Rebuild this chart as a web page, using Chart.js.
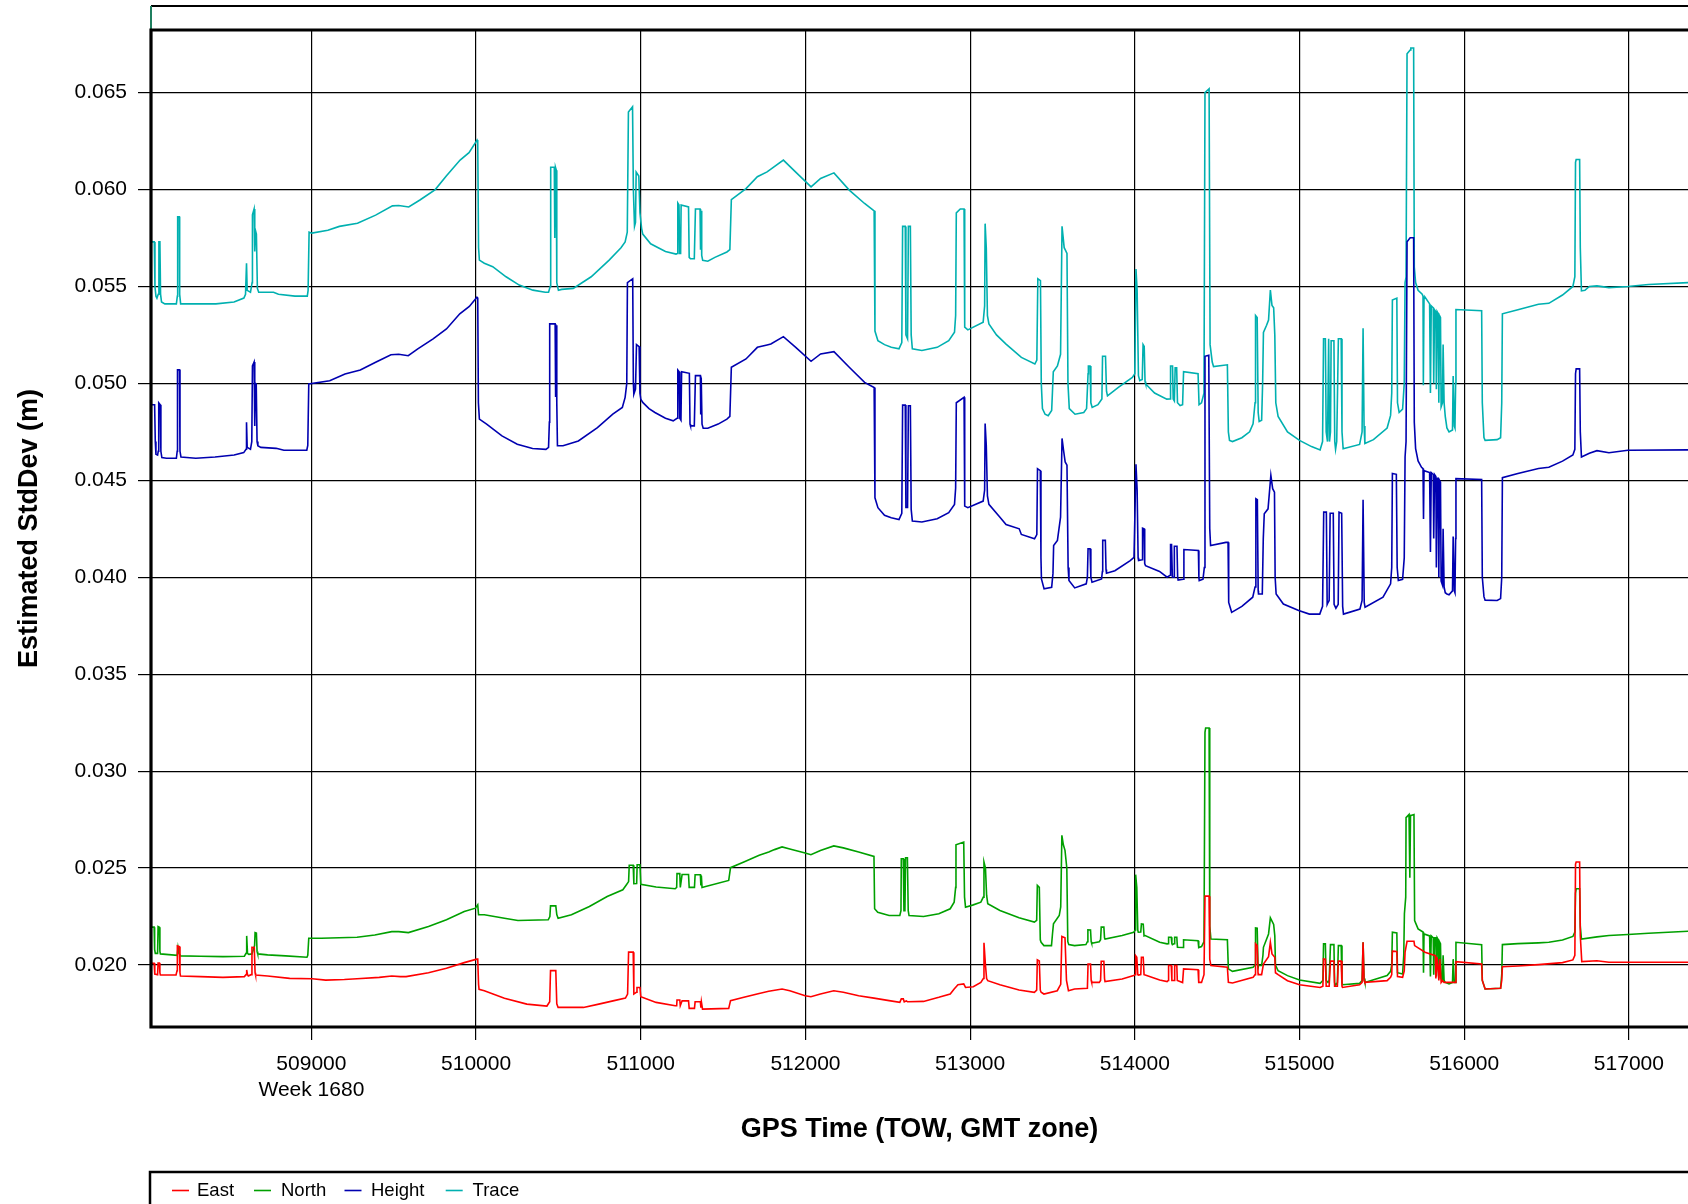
<!DOCTYPE html>
<html>
<head>
<meta charset="utf-8">
<script src="https://cdn.jsdelivr.net/npm/chart.js@4/dist/chart.umd.min.js"></script>
<style>
html,body{margin:0;padding:0;background:#fff;overflow:hidden;}
#wrap{width:1688px;height:1204px;}
</style>
</head>
<body>
<div id="wrap"><canvas id="c" width="1688" height="1204"></canvas></div>
<script>
// ---- Data (GPS time of week [s], estimated standard deviation [m]) ----
const seriesNames = ['East', 'North', 'Height', 'Trace'];
const seriesColors = ['#ff0000', '#00a000', '#0000b0', '#00b0b0'];
const xTickValues = [509000, 510000, 511000, 512000, 513000, 514000, 515000, 516000, 517000];
const yTickValues = [0.020, 0.025, 0.030, 0.035, 0.040, 0.045, 0.050, 0.055, 0.060, 0.065];
const weekLabel = 'Week 1680';

const traceData = [[508025,0.0579],[508028,0.0573],[508046,0.0573],[508050,0.0550],[508056,0.0545],[508062,0.0544],[508070,0.0546],[508074,0.0573],[508080,0.0573],[508084,0.0546],[508090,0.0542],[508110,0.0541],[508180,0.0541],[508186,0.0545],[508188,0.0586],[508198,0.0586],[508200,0.0546],[508206,0.0541],[508300,0.0541],[508420,0.0541],[508530,0.0542],[508590,0.0544],[508600,0.0546],[508606,0.0562],[508610,0.0548],[508630,0.0547],[508640,0.0552],[508642,0.0587],[508652,0.0590],[508656,0.0568],[508660,0.0579],[508666,0.0577],[508672,0.0549],[508680,0.0547],[508770,0.0547],[508800,0.0546],[508900,0.0545],[508975,0.0545],[508980,0.0548],[508986,0.0578],[509003,0.05775],[509100,0.0579],[509170,0.0581],[509280,0.05826],[509390,0.05868],[509492,0.05916],[509530,0.05918],[509591,0.0591],[509659,0.05946],[509752,0.0600],[509819,0.0607],[509903,0.06152],[509957,0.0619],[510006,0.06255],[510010,0.06245],[510015,0.0570],[510020,0.05636],[510050,0.0562],[510101,0.05602],[510182,0.0555],[510262,0.05507],[510345,0.05481],[510420,0.0547],[510440,0.0547],[510450,0.0550],[510453,0.06115],[510475,0.06115],[510478,0.0575],[510482,0.06115],[510487,0.0610],[510490,0.0552],[510500,0.0548],[510520,0.05485],[510590,0.0549],[510699,0.0555],[510808,0.05636],[510880,0.0570],[510905,0.0573],[510918,0.0578],[510925,0.0640],[510950,0.06427],[510955,0.0600],[510962,0.0581],[510968,0.0583],[510972,0.0609],[510988,0.0607],[510995,0.0588],[511005,0.0580],[511012,0.0577],[511060,0.0572],[511106,0.0570],[511150,0.0568],[511214,0.05667],[511222,0.0567],[511225,0.0593],[511232,0.0592],[511236,0.0567],[511242,0.0567],[511245,0.0592],[511290,0.0591],[511294,0.0565],[511302,0.05643],[511325,0.05643],[511332,0.0590],[511360,0.0590],[511363,0.0569],[511367,0.0589],[511370,0.0566],[511376,0.05635],[511407,0.0563],[511450,0.0565],[511523,0.05678],[511541,0.0569],[511550,0.05948],[511639,0.06005],[511708,0.06066],[511767,0.06091],[511790,0.06105],[511866,0.06152],[511941,0.0609],[512034,0.06014],[512092,0.06057],[512173,0.06086],[512266,0.05997],[512359,0.05928],[512417,0.0589],[512422,0.0527],[512440,0.0522],[512480,0.0520],[512521,0.05186],[512568,0.05178],[512585,0.0521],[512590,0.0581],[512606,0.0581],[512610,0.0525],[512620,0.0523],[512625,0.0581],[512637,0.0581],[512642,0.0525],[512649,0.05178],[512707,0.0517],[512800,0.05186],[512870,0.0522],[512905,0.05264],[512912,0.0535],[512916,0.0588],[512940,0.0590],[512963,0.0590],[512967,0.0529],[512986,0.05276],[513079,0.05316],[513088,0.0540],[513091,0.05824],[513098,0.0570],[513105,0.0535],[513114,0.05307],[513160,0.0525],[513218,0.05203],[513311,0.05134],[513393,0.0510],[513405,0.0512],[513411,0.0554],[513427,0.0553],[513432,0.0500],[513439,0.0487],[513455,0.04841],[513474,0.04833],[513495,0.0486],[513505,0.0506],[513530,0.0509],[513549,0.0515],[513558,0.0581],[513571,0.0570],[513577,0.0569],[513588,0.0567],[513594,0.0500],[513602,0.0487],[513637,0.04841],[513690,0.0485],[513707,0.0487],[513716,0.0505],[513718,0.0509],[513728,0.0509],[513733,0.0490],[513741,0.04876],[513776,0.0489],[513800,0.0492],[513804,0.0514],[513822,0.0514],[513828,0.0496],[513834,0.04936],[513900,0.0498],[513985,0.05031],[514000,0.0505],[514007,0.0559],[514014,0.0548],[514022,0.0504],[514030,0.05014],[514045,0.0502],[514050,0.0520],[514057,0.0519],[514062,0.0501],[514066,0.04997],[514120,0.0495],[514194,0.04919],[514214,0.0492],[514217,0.0509],[514229,0.0509],[514233,0.0492],[514240,0.0491],[514245,0.0508],[514254,0.0508],[514259,0.0490],[514275,0.04886],[514290,0.0489],[514296,0.0506],[514384,0.0505],[514390,0.0489],[514405,0.0490],[514420,0.0495],[514426,0.0650],[514451,0.0652],[514457,0.0520],[514470,0.0511],[514478,0.05087],[514562,0.05096],[514568,0.0475],[514575,0.04706],[514593,0.0470],[514650,0.0472],[514697,0.0475],[514718,0.04792],[514730,0.0490],[514733,0.0535],[514743,0.0534],[514749,0.0485],[514755,0.04803],[514770,0.0481],[514776,0.0500],[514781,0.05263],[514800,0.0530],[514812,0.05327],[514823,0.05481],[514833,0.05402],[514843,0.0539],[514850,0.0525],[514856,0.0490],[514870,0.0483],[514927,0.0475],[515000,0.04706],[515073,0.04674],[515125,0.04657],[515140,0.0470],[515146,0.0523],[515157,0.0523],[515162,0.0475],[515170,0.0470],[515177,0.0523],[515182,0.0470],[515188,0.0475],[515192,0.0522],[515209,0.0522],[515214,0.0470],[515219,0.0466],[515226,0.0470],[515236,0.0523],[515253,0.0523],[515258,0.0475],[515265,0.04663],[515365,0.04685],[515380,0.0475],[515386,0.05284],[515392,0.0478],[515397,0.0469],[515449,0.0471],[515532,0.0477],[515553,0.04835],[515560,0.0495],[515564,0.0543],[515591,0.0544],[515595,0.0490],[515605,0.0485],[515626,0.04867],[515636,0.0500],[515641,0.0552],[515647,0.0555],[515653,0.0670],[515672,0.0672],[515676,0.0673],[515693,0.0673],[515697,0.0560],[515705,0.0552],[515720,0.0548],[515745,0.0546],[515750,0.0545],[515752,0.0499],[515756,0.0544],[515762,0.05445],[515790,0.0541],[515795,0.0495],[515800,0.0540],[515812,0.0539],[515815,0.0500],[515820,0.0538],[515828,0.0537],[515831,0.0497],[515836,0.0537],[515842,0.0536],[515846,0.0490],[515850,0.0535],[515856,0.0534],[515860,0.0488],[515868,0.0490],[515872,0.0520],[515878,0.0490],[515885,0.0483],[515895,0.0477],[515908,0.0475],[515929,0.0476],[515933,0.05038],[515940,0.0478],[515944,0.0477],[515948,0.0500],[515950,0.05381],[516106,0.05375],[516110,0.0490],[516120,0.0472],[516127,0.04706],[516200,0.0471],[516221,0.0472],[516228,0.0490],[516232,0.05359],[516326,0.0538],[516451,0.05408],[516514,0.05413],[516597,0.05456],[516660,0.0550],[516672,0.0555],[516676,0.0614],[516680,0.06155],[516701,0.06155],[516705,0.0570],[516712,0.05477],[516733,0.0548],[516760,0.0550],[516806,0.05503],[516879,0.05494],[516994,0.05500],[517119,0.05510],[517365,0.0552]];

const heightData = [[508025,0.0495],[508028,0.0489],[508048,0.0489],[508052,0.0470],[508056,0.04634],[508066,0.0463],[508070,0.0465],[508073,0.0490],[508082,0.0489],[508086,0.0465],[508092,0.04617],[508120,0.04614],[508180,0.04614],[508185,0.0465],[508187,0.0507],[508199,0.0507],[508202,0.0465],[508208,0.0462],[508298,0.04614],[508415,0.0462],[508531,0.04631],[508589,0.04643],[508603,0.0466],[508606,0.0480],[508610,0.0467],[508630,0.0466],[508638,0.0470],[508642,0.0509],[508652,0.0511],[508656,0.0478],[508660,0.0500],[508665,0.04997],[508670,0.0470],[508675,0.04678],[508693,0.0467],[508786,0.04665],[508833,0.04655],[508972,0.04655],[508978,0.0468],[508984,0.04997],[509111,0.05014],[509204,0.05048],[509297,0.05069],[509390,0.05109],[509483,0.05148],[509530,0.05150],[509588,0.05143],[509646,0.05178],[509739,0.0523],[509820,0.05281],[509901,0.05359],[509959,0.05397],[510005,0.05445],[510010,0.05440],[510014,0.0490],[510020,0.04816],[510064,0.0479],[510157,0.04729],[510250,0.04686],[510343,0.04664],[510424,0.0466],[510440,0.0467],[510445,0.0480],[510447,0.05307],[510480,0.05307],[510483,0.0493],[510487,0.0530],[510490,0.0490],[510494,0.04678],[510528,0.04678],[510621,0.04703],[510737,0.04772],[510830,0.04841],[510888,0.04876],[510905,0.04928],[510915,0.0500],[510919,0.0552],[510951,0.0554],[510955,0.0500],[510958,0.04945],[510968,0.0497],[510974,0.0520],[510990,0.0519],[510995,0.0495],[511000,0.04919],[511012,0.04902],[511050,0.0487],[511086,0.0485],[511150,0.0482],[511197,0.04807],[511220,0.0482],[511225,0.05069],[511233,0.0506],[511237,0.0482],[511244,0.0481],[511248,0.0506],[511295,0.05052],[511299,0.0479],[511302,0.04781],[511325,0.04781],[511332,0.0504],[511362,0.0504],[511364,0.0484],[511367,0.0503],[511372,0.0479],[511379,0.04769],[511407,0.04769],[511470,0.0479],[511523,0.04816],[511541,0.0483],[511550,0.05083],[511639,0.05126],[511708,0.05186],[511767,0.05198],[511790,0.05203],[511866,0.05241],[511941,0.05186],[512034,0.05114],[512092,0.05152],[512173,0.05164],[512266,0.05083],[512359,0.05005],[512417,0.04979],[512422,0.0441],[512440,0.04359],[512480,0.0432],[512521,0.04307],[512568,0.04298],[512585,0.0433],[512590,0.04888],[512606,0.04888],[512610,0.0436],[512620,0.0436],[512625,0.04885],[512637,0.04885],[512642,0.0435],[512649,0.0429],[512707,0.04285],[512800,0.04302],[512870,0.04333],[512905,0.04376],[512912,0.0446],[512916,0.0490],[512963,0.04928],[512967,0.04367],[512986,0.04359],[513079,0.04393],[513088,0.0445],[513091,0.04793],[513098,0.0468],[513105,0.0442],[513114,0.04376],[513181,0.0431],[513218,0.04272],[513298,0.0425],[513311,0.04221],[513391,0.04198],[513405,0.0422],[513409,0.0456],[513426,0.0455],[513430,0.0410],[513433,0.03991],[513449,0.0394],[513495,0.03948],[513503,0.0402],[513507,0.04164],[513530,0.0419],[513549,0.0431],[513558,0.04716],[513568,0.0465],[513577,0.04595],[513588,0.04578],[513595,0.0405],[513600,0.03983],[513635,0.03945],[513705,0.03966],[513712,0.0400],[513716,0.04147],[513728,0.04147],[513733,0.0400],[513740,0.03974],[513798,0.03991],[513803,0.0403],[513805,0.0419],[513821,0.0419],[513825,0.0404],[513828,0.04021],[513879,0.04034],[513972,0.04086],[513995,0.04103],[514007,0.04583],[514014,0.0445],[514020,0.0410],[514023,0.04086],[514044,0.0409],[514047,0.04253],[514056,0.0425],[514060,0.0407],[514065,0.0406],[514150,0.0403],[514196,0.0400],[514214,0.0401],[514217,0.04169],[514223,0.04169],[514228,0.0400],[514238,0.0400],[514240,0.0416],[514256,0.0416],[514260,0.0400],[514263,0.03986],[514294,0.0399],[514298,0.04143],[514386,0.04138],[514389,0.0400],[514391,0.03983],[514414,0.0399],[514422,0.0405],[514426,0.0514],[514449,0.05145],[514455,0.0425],[514460,0.04164],[514553,0.0418],[514566,0.0418],[514570,0.0387],[514588,0.03819],[514650,0.0385],[514716,0.03897],[514730,0.0395],[514735,0.04405],[514744,0.0440],[514749,0.0393],[514751,0.03914],[514774,0.03914],[514780,0.0420],[514786,0.04328],[514809,0.04353],[514826,0.04526],[514837,0.04457],[514848,0.04439],[514852,0.0400],[514858,0.03914],[514902,0.03862],[514995,0.03828],[515060,0.0381],[515123,0.0381],[515140,0.0385],[515147,0.04336],[515163,0.04336],[515168,0.0386],[515174,0.03871],[515180,0.0388],[515186,0.0433],[515205,0.0433],[515210,0.0386],[515221,0.0384],[515235,0.0386],[515240,0.04336],[515256,0.0433],[515262,0.0385],[515267,0.0381],[515367,0.03836],[515380,0.0388],[515386,0.0440],[515393,0.0387],[515398,0.03845],[515507,0.03897],[515553,0.03966],[515560,0.0405],[515564,0.04535],[515588,0.04531],[515593,0.0405],[515600,0.03983],[515626,0.03989],[515636,0.0410],[515641,0.0462],[515647,0.0470],[515653,0.0573],[515672,0.05751],[515693,0.05751],[515697,0.0480],[515705,0.04664],[515720,0.0460],[515741,0.04567],[515750,0.0456],[515753,0.0430],[515756,0.0455],[515790,0.0454],[515795,0.0413],[515800,0.0454],[515812,0.0453],[515815,0.0420],[515820,0.0453],[515828,0.0452],[515831,0.0405],[515836,0.0451],[515842,0.0451],[515846,0.0400],[515850,0.0450],[515856,0.0449],[515860,0.0398],[515868,0.0396],[515872,0.0425],[515878,0.0395],[515885,0.0392],[515895,0.03914],[515908,0.0391],[515929,0.0393],[515933,0.0421],[515940,0.0393],[515944,0.0392],[515948,0.0420],[515950,0.04509],[516106,0.04504],[516110,0.0400],[516120,0.0390],[516127,0.03882],[516200,0.0388],[516221,0.0389],[516228,0.0400],[516232,0.04514],[516326,0.04535],[516451,0.04561],[516514,0.04567],[516597,0.04599],[516660,0.04631],[516672,0.0466],[516676,0.0505],[516680,0.05075],[516701,0.05075],[516705,0.0475],[516712,0.0462],[516760,0.0464],[516806,0.04653],[516879,0.04642],[516994,0.04655],[517365,0.04657]];

const northData = [[508025,0.0222],[508028,0.02195],[508045,0.02195],[508048,0.0208],[508052,0.0206],[508066,0.0206],[508069,0.02198],[508077,0.02195],[508080,0.0207],[508083,0.02057],[508185,0.0205],[508190,0.0209],[508196,0.0206],[508205,0.02047],[508327,0.02045],[508463,0.02043],[508593,0.02045],[508603,0.0206],[508607,0.0215],[508612,0.0206],[508620,0.02055],[508639,0.02057],[508655,0.0210],[508658,0.02167],[508666,0.02165],[508670,0.0207],[508674,0.02057],[508734,0.02052],[508843,0.02047],[508973,0.0204],[508978,0.0205],[508984,0.02138],[509060,0.02138],[509277,0.02143],[509385,0.02155],[509488,0.02172],[509530,0.02172],[509589,0.02167],[509711,0.02198],[509820,0.02233],[509928,0.02276],[509996,0.02293],[510010,0.0231],[510015,0.02259],[510050,0.02259],[510172,0.02241],[510254,0.02229],[510438,0.02233],[510448,0.0225],[510452,0.02305],[510484,0.02305],[510490,0.0226],[510498,0.02241],[510579,0.02259],[510688,0.02302],[510796,0.02353],[510891,0.02388],[510913,0.02414],[510926,0.0243],[510930,0.02514],[510954,0.02514],[510958,0.02419],[510975,0.0242],[510978,0.02517],[510995,0.02517],[511000,0.02416],[511093,0.02402],[511209,0.02393],[511218,0.0240],[511220,0.02471],[511237,0.02471],[511240,0.0240],[511244,0.0240],[511251,0.02467],[511290,0.02467],[511294,0.0240],[511326,0.0240],[511330,0.02465],[511362,0.02465],[511365,0.0241],[511368,0.0246],[511372,0.0240],[511394,0.02405],[511534,0.02436],[511545,0.02502],[511626,0.02531],[511719,0.02566],[511777,0.02583],[511812,0.02595],[511858,0.02609],[511905,0.02598],[511998,0.02578],[512033,0.02569],[512091,0.02591],[512172,0.02614],[512230,0.02604],[512323,0.02583],[512416,0.0256],[512420,0.0229],[512439,0.02272],[512508,0.02255],[512573,0.02255],[512580,0.0228],[512582,0.02548],[512594,0.02548],[512598,0.0228],[512604,0.0228],[512608,0.02553],[512619,0.02553],[512624,0.0228],[512629,0.02255],[512717,0.0225],[512810,0.02264],[512879,0.0229],[512903,0.02324],[512912,0.0240],[512914,0.0262],[512961,0.02634],[512966,0.0235],[512972,0.02298],[513019,0.0231],[513065,0.02324],[513080,0.0235],[513084,0.02531],[513093,0.0250],[513100,0.0236],[513107,0.02316],[513181,0.02281],[513297,0.02243],[513390,0.02221],[513404,0.0223],[513408,0.0241],[513420,0.0240],[513426,0.0213],[513431,0.02117],[513448,0.021],[513494,0.021],[513500,0.0216],[513506,0.02212],[513541,0.02255],[513550,0.0230],[513557,0.02669],[513566,0.0262],[513576,0.02591],[513587,0.0250],[513593,0.0212],[513599,0.02105],[513634,0.021],[513703,0.02105],[513712,0.0212],[513715,0.02181],[513731,0.0218],[513735,0.0212],[513738,0.02112],[513784,0.0212],[513792,0.0213],[513796,0.02195],[513812,0.02195],[513816,0.0214],[513819,0.02134],[513923,0.02152],[513993,0.02169],[514003,0.0218],[514005,0.02466],[514012,0.0240],[514018,0.0218],[514021,0.02169],[514036,0.0217],[514040,0.02212],[514051,0.0221],[514056,0.0215],[514063,0.02152],[514151,0.02117],[514196,0.02109],[514203,0.0211],[514205,0.02143],[514221,0.02143],[514225,0.0211],[514228,0.02105],[514240,0.0211],[514242,0.02143],[514255,0.02143],[514258,0.0210],[514259,0.02091],[514294,0.0209],[514296,0.0213],[514384,0.02125],[514388,0.0209],[514405,0.02095],[514420,0.0212],[514426,0.0320],[514430,0.03222],[514451,0.03222],[514455,0.0220],[514462,0.02134],[514562,0.0213],[514568,0.0198],[514593,0.01967],[514718,0.01988],[514730,0.0200],[514733,0.02191],[514743,0.0219],[514748,0.0200],[514749,0.01997],[514770,0.01997],[514778,0.0205],[514781,0.02091],[514812,0.0216],[514823,0.02243],[514843,0.02209],[514850,0.0215],[514854,0.0200],[514870,0.0197],[514927,0.01945],[515000,0.01922],[515125,0.01905],[515142,0.0192],[515146,0.02109],[515157,0.02109],[515162,0.0192],[515173,0.0191],[515180,0.0192],[515188,0.02105],[515209,0.02105],[515213,0.0191],[515219,0.01895],[515230,0.0191],[515236,0.021],[515253,0.021],[515258,0.0191],[515261,0.01898],[515365,0.01905],[515380,0.0192],[515386,0.02117],[515392,0.0193],[515397,0.0191],[515532,0.01945],[515553,0.01967],[515560,0.0200],[515564,0.02169],[515591,0.02165],[515595,0.0196],[515626,0.01953],[515633,0.0205],[515637,0.02264],[515645,0.0235],[515647,0.0276],[515665,0.02776],[515670,0.0245],[515674,0.0277],[515695,0.02776],[515699,0.02229],[515720,0.02186],[515750,0.0217],[515753,0.0196],[515756,0.0216],[515790,0.0215],[515795,0.0194],[515800,0.0215],[515812,0.0214],[515815,0.0195],[515820,0.0214],[515828,0.0214],[515831,0.0194],[515836,0.0214],[515842,0.0213],[515846,0.0193],[515850,0.0212],[515856,0.0211],[515860,0.0193],[515868,0.0192],[515872,0.0205],[515878,0.0192],[515885,0.0191],[515908,0.01902],[515929,0.0191],[515933,0.0203],[515940,0.0191],[515946,0.0191],[515950,0.02117],[516106,0.02105],[516110,0.0192],[516127,0.01876],[516221,0.0188],[516228,0.0195],[516232,0.02105],[516326,0.0211],[516451,0.02114],[516514,0.02117],[516597,0.02129],[516660,0.02147],[516672,0.0217],[516676,0.0237],[516680,0.02393],[516701,0.02393],[516705,0.0220],[516712,0.02134],[516806,0.02145],[516879,0.02152],[516994,0.02157],[517119,0.02164],[517365,0.02174]];

const eastData = [[508025,0.02034],[508029,0.02009],[508045,0.02009],[508048,0.0197],[508050,0.01953],[508066,0.0195],[508069,0.0201],[508077,0.0201],[508080,0.0196],[508083,0.01948],[508178,0.01948],[508184,0.0197],[508186,0.02098],[508197,0.02095],[508202,0.0196],[508205,0.01943],[508327,0.0194],[508463,0.01936],[508593,0.0194],[508603,0.0195],[508607,0.01974],[508612,0.0195],[508617,0.01943],[508634,0.0195],[508639,0.02091],[508653,0.0209],[508658,0.0196],[508661,0.01948],[508734,0.01943],[508868,0.01931],[509005,0.01929],[509087,0.01922],[509200,0.01925],[509277,0.01929],[509412,0.01936],[509488,0.01943],[509540,0.0194],[509575,0.0194],[509711,0.0196],[509820,0.01983],[509928,0.02012],[510004,0.0203],[510010,0.0203],[510015,0.0190],[510018,0.01874],[510050,0.01867],[510172,0.01828],[510308,0.01798],[510430,0.01788],[510447,0.0181],[510452,0.01971],[510484,0.01971],[510490,0.0180],[510498,0.01781],[510634,0.01781],[510652,0.01781],[510745,0.01798],[510838,0.01816],[510907,0.01829],[510920,0.0185],[510926,0.02066],[510954,0.02066],[510958,0.0185],[510975,0.0186],[510977,0.01884],[510995,0.01884],[511000,0.01836],[511093,0.01807],[511209,0.0179],[511218,0.0179],[511220,0.01819],[511237,0.01819],[511240,0.0179],[511244,0.0179],[511251,0.01815],[511290,0.01815],[511294,0.01776],[511326,0.01776],[511330,0.0181],[511362,0.0181],[511365,0.0178],[511368,0.0181],[511375,0.01772],[511534,0.01776],[511545,0.01816],[511626,0.01833],[511719,0.01853],[511777,0.01864],[511858,0.01876],[511905,0.01867],[511998,0.01841],[512033,0.01836],[512091,0.01850],[512172,0.01867],[512230,0.01859],[512323,0.01841],[512416,0.01829],[512508,0.01816],[512573,0.01807],[512582,0.01825],[512594,0.01825],[512600,0.0181],[512613,0.01815],[512620,0.0181],[512717,0.01812],[512810,0.01833],[512879,0.0185],[512903,0.01876],[512926,0.01898],[512961,0.01902],[512972,0.01884],[513019,0.01888],[513065,0.0191],[513080,0.0193],[513084,0.02114],[513093,0.0200],[513100,0.0193],[513107,0.01919],[513181,0.01898],[513297,0.01871],[513390,0.01859],[513404,0.0187],[513408,0.02026],[513420,0.0202],[513426,0.0187],[513431,0.01859],[513448,0.0185],[513529,0.01867],[513550,0.0190],[513557,0.02147],[513576,0.0214],[513585,0.0192],[513597,0.01867],[513634,0.01876],[513712,0.0188],[513716,0.02005],[513731,0.02005],[513735,0.0192],[513738,0.0191],[513784,0.0191],[513792,0.0192],[513796,0.02019],[513812,0.02019],[513816,0.0193],[513819,0.01914],[513923,0.01928],[513993,0.01945],[514003,0.0195],[514005,0.02048],[514012,0.0204],[514018,0.0195],[514021,0.01948],[514036,0.0195],[514040,0.0204],[514051,0.0204],[514056,0.0195],[514063,0.01948],[514151,0.01922],[514196,0.01914],[514203,0.0192],[514205,0.01997],[514221,0.01997],[514225,0.0192],[514240,0.0192],[514242,0.01997],[514255,0.01997],[514258,0.0192],[514290,0.01909],[514296,0.0198],[514384,0.01975],[514388,0.0191],[514405,0.0191],[514420,0.0195],[514426,0.02355],[514451,0.02355],[514455,0.0203],[514462,0.01997],[514562,0.01988],[514568,0.0191],[514593,0.01907],[514718,0.01936],[514730,0.0195],[514733,0.02109],[514743,0.0210],[514748,0.0196],[514749,0.0195],[514770,0.0195],[514778,0.0199],[514781,0.02005],[514812,0.02043],[514823,0.02117],[514833,0.02057],[514850,0.0204],[514854,0.0196],[514870,0.0195],[514927,0.01919],[515000,0.01898],[515125,0.01884],[515142,0.0189],[515146,0.02031],[515157,0.0203],[515162,0.0189],[515180,0.0189],[515188,0.0202],[515209,0.0202],[515213,0.0189],[515230,0.0189],[515236,0.0202],[515253,0.0202],[515258,0.0189],[515261,0.01884],[515365,0.01898],[515380,0.0191],[515386,0.02117],[515392,0.0192],[515397,0.0191],[515532,0.01919],[515553,0.01936],[515560,0.0195],[515564,0.02071],[515591,0.0207],[515595,0.0194],[515626,0.01936],[515636,0.0197],[515641,0.02066],[515653,0.02122],[515695,0.02122],[515699,0.021],[515762,0.02066],[515825,0.02048],[515828,0.0193],[515836,0.0204],[515846,0.0192],[515852,0.0203],[515860,0.0191],[515868,0.0192],[515878,0.0191],[515908,0.0191],[515946,0.0191],[515950,0.02017],[516106,0.02005],[516110,0.0192],[516127,0.01876],[516221,0.0188],[516228,0.0192],[516232,0.01991],[516326,0.01995],[516451,0.02002],[516597,0.02012],[516660,0.02026],[516672,0.0205],[516676,0.0252],[516680,0.02531],[516701,0.02531],[516705,0.0215],[516714,0.02017],[516806,0.02022],[516879,0.02014],[516994,0.02014],[517365,0.02014]];

const xMin = 508026, xMax = 517359;
const yMin = 0.0168, yMax = 0.06823;

// ---- Chart ----
const FONT = "'Liberation Sans', Arial, Helvetica, sans-serif";
const toPts = arr => arr.map(p => ({x: p[0], y: p[1]}));
const allData = [eastData, northData, heightData, traceData];

const framePlugin = {
  id: 'frame',
  afterDraw(chart) {
    const {ctx, chartArea: a} = chart;
    ctx.save();
    // title box above plot
    ctx.strokeStyle = '#000';
    ctx.lineWidth = 2;
    ctx.beginPath();
    ctx.moveTo(a.left, 6); ctx.lineTo(chart.width + 5, 6);
    ctx.stroke();
    ctx.strokeStyle = '#1f7f5f';
    ctx.beginPath();
    ctx.moveTo(a.left, 6); ctx.lineTo(a.left, a.top);
    ctx.stroke();
    // plot frame (left, top, bottom)
    ctx.strokeStyle = '#000';
    ctx.lineWidth = 3.2;
    ctx.beginPath();
    ctx.moveTo(chart.width + 5, a.top);
    ctx.lineTo(a.left, a.top);
    ctx.lineTo(a.left, a.bottom);
    ctx.lineTo(chart.width + 5, a.bottom);
    ctx.stroke();
    // legend box
    const ly = 1172;
    ctx.lineWidth = 2.5;
    ctx.beginPath();
    ctx.moveTo(chart.width + 5, ly);
    ctx.lineTo(a.left - 1, ly);
    ctx.lineTo(a.left - 1, chart.height + 5);
    ctx.stroke();
    // legend entries
    const lineX = [172, 254, 344.5, 445.7];
    const textX = [197, 281, 371, 472.6];
    const yy = 1190.5;
    ctx.font = '18.5px ' + FONT;
    ctx.textBaseline = 'middle';
    ctx.textAlign = 'left';
    chart.data.datasets.forEach((ds, i) => {
      ctx.strokeStyle = ds.borderColor;
      ctx.lineWidth = 1.6;
      ctx.beginPath();
      ctx.moveTo(lineX[i], yy); ctx.lineTo(lineX[i] + 17, yy);
      ctx.stroke();
      ctx.fillStyle = '#000';
      ctx.fillText(ds.label, textX[i], yy);
    });
    ctx.restore();
  }
};

new Chart(document.getElementById('c'), {
  type: 'line',
  data: {
    datasets: seriesNames.map((name, i) => ({
      label: name,
      data: toPts(allData[i]),
      borderColor: seriesColors[i],
      backgroundColor: seriesColors[i],
      borderWidth: 1.6,
      pointRadius: 0,
      tension: 0,
      fill: false
    }))
  },
  options: {
    responsive: false,
    animation: false,
    events: [],
    devicePixelRatio: 1,
    layout: {padding: {top: 30, right: 0, left: 0, bottom: 0}},
    plugins: {legend: {display: false}, tooltip: {enabled: false}, title: {display: false}},
    scales: {
      x: {
        type: 'linear',
        min: xMin, max: xMax,
        afterBuildTicks: s => { s.ticks = xTickValues.map(v => ({value: v})); },
        afterFit: s => { s.height = 177; },
        border: {display: false},
        grid: {color: '#000', lineWidth: 1.2, tickLength: 13, tickColor: '#000', drawTicks: true},
        ticks: {
          autoSkip: false, maxRotation: 0, minRotation: 0, padding: 12, color: '#000',
          font: {family: FONT, size: 21},
          callback: v => v === xTickValues[0] ? [String(v), weekLabel] : String(v)
        },
        title: {
          display: true, text: 'GPS Time (TOW, GMT zone)', color: '#000',
          font: {family: FONT, size: 27, weight: 'bold'},
          padding: {top: 0, bottom: 58}
        }
      },
      y: {
        type: 'linear',
        min: yMin, max: yMax,
        afterBuildTicks: s => { s.ticks = yTickValues.map(v => ({value: v})); },
        afterFit: s => { s.width = 151; },
        border: {display: false},
        grid: {color: '#000', lineWidth: 1.2, tickLength: 13, tickColor: '#000', drawTicks: true},
        ticks: {
          autoSkip: false, padding: 11, color: '#000',
          font: {family: FONT, size: 21},
          callback: v => Number(v).toFixed(3)
        },
        title: {
          display: true, text: 'Estimated StdDev (m)', color: '#000',
          font: {family: FONT, size: 27, weight: 'bold'},
          padding: {top: 13, bottom: 0}
        }
      }
    }
  },
  plugins: [framePlugin]
});
</script>
</body>
</html>
